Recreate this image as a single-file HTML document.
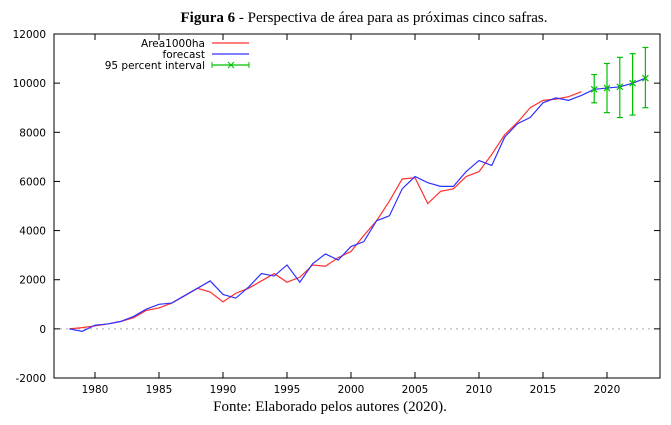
<!DOCTYPE html>
<html><head><meta charset="utf-8"><style>
body{margin:0;background:#fff;width:671px;height:420px;overflow:hidden}
svg text{font-family:"DejaVu Sans","Liberation Sans",sans-serif}
</style></head><body>
<svg id="c" width="671" height="420">
<text x="364" y="22" text-anchor="middle" style="font-family:'Liberation Serif',serif;font-size:15px"><tspan font-weight="bold">Figura 6</tspan> - Perspectiva de área para as próximas cinco safras.</text>
<text x="330" y="411" text-anchor="middle" style="font-family:'Liberation Serif',serif;font-size:15px">Fonte: Elaborado pelos autores (2020).</text>
</svg>
<script>
const years=[];for(let y=1978;y<=2023;y++)years.push(y);
const actual=[0,50,120,200,300,450,750,850,1050,1350,1650,1500,1100,1450,1650,1950,2250,1900,2100,2600,2550,2900,3150,3800,4400,5200,6100,6150,5100,5600,5700,6200,6400,7100,7900,8400,9000,9300,9350,9450,9650];
const forecast=[0,-100,150,200,300,500,800,1000,1050,1350,1650,1950,1400,1250,1700,2250,2150,2600,1900,2650,3050,2800,3350,3550,4400,4600,5700,6200,5950,5800,5800,6400,6850,6650,7800,8350,8600,9200,9400,9300,9500,9750,9800,9850,10000,10200];
const ciYears=[2019,2020,2021,2022,2023];
const ciMid=[9750,9800,9850,10000,10200];
const ciLow=[9200,8800,8600,8700,9000];
const ciHigh=[10350,10800,11050,11200,11450];
const yTicks=[-2000,0,2000,4000,6000,8000,10000,12000];
const xTicks=[1980,1985,1990,1995,2000,2005,2010,2015,2020];
const L=54,R=660,T=34,B=378;
const X=v=>95+(v-1980)*12.8;
const Y=v=>B-(v+2000)/14000*(B-T);
const svg=document.getElementById('c');const NS='http://www.w3.org/2000/svg';
function mk(t,a){const e=document.createElementNS(NS,t);for(const k in a)e.setAttribute(k,a[k]);svg.appendChild(e);return e;}
let e=mk('rect',{x:L,y:T,width:R-L,height:B-T,fill:'none',stroke:'#000','stroke-width':1});


e=mk('line',{x1:L,x2:R,y1:Y(0),y2:Y(0),stroke:'#aaa','stroke-dasharray':'2,4'});


yTicks.forEach(v=>{
 mk('line',{x1:L,x2:L+6,y1:Y(v),y2:Y(v),stroke:'#000'});mk('line',{x1:R,x2:R-6,y1:Y(v),y2:Y(v),stroke:'#000'});
 const t=mk('text',{x:L-8,y:Y(v)+4,'text-anchor':'end','font-size':10.5});t.textContent=v;
 
 
});
xTicks.forEach(v=>{
 mk('line',{x1:X(v),x2:X(v),y1:B,y2:B-6,stroke:'#000'});mk('line',{x1:X(v),x2:X(v),y1:T,y2:T+6,stroke:'#000'});
 const t=mk('text',{x:X(v),y:B+15,'text-anchor':'middle','font-size':10.5});t.textContent=v;
 
 
});
function line(vals,col,name){const p=vals.map((v,i)=>X(years[i])+','+Y(v)).join(' ');
 const l=mk('polyline',{points:p,fill:'none',stroke:col,'stroke-width':1.2});
 
 }
line(actual,'#ff3030','area1000ha-line');
line(forecast,'#3030ff','forecast-line');
ciYears.forEach((yr,i)=>{const x=X(yr);
 const g=mk('g',{stroke:'#00c000','stroke-width':1.2});
 
 
 [[x,Y(ciLow[i]),x,Y(ciHigh[i])],[x-3,Y(ciLow[i]),x+3,Y(ciLow[i])],[x-3,Y(ciHigh[i]),x+3,Y(ciHigh[i])],[x-3,Y(ciMid[i])-3,x+3,Y(ciMid[i])+3],[x-3,Y(ciMid[i])+3,x+3,Y(ciMid[i])-3]].forEach(a=>{const l=document.createElementNS(NS,'line');l.setAttribute('x1',a[0]);l.setAttribute('y1',a[1]);l.setAttribute('x2',a[2]);l.setAttribute('y2',a[3]);g.appendChild(l);});
});
const leg=[['Area1000ha','#ff3030'],['forecast','#3030ff'],['95 percent interval','#00c000']];
leg.forEach((d,i)=>{const y=43+i*11;
 const t=mk('text',{x:205,y:y+4,'text-anchor':'end','font-size':10.5});t.textContent=d[0];
 
 
 mk('line',{x1:212,x2:249,y1:y,y2:y,stroke:d[1],'stroke-width':1.2});
 if(i==2){mk('line',{x1:212,x2:212,y1:y-3,y2:y+3,stroke:d[1]});mk('line',{x1:249,x2:249,y1:y-3,y2:y+3,stroke:d[1]});
  mk('line',{x1:228,x2:234,y1:y-3,y2:y+3,stroke:d[1]});mk('line',{x1:228,x2:234,y1:y+3,y2:y-3,stroke:d[1]});}
});
</script>
</body></html>
